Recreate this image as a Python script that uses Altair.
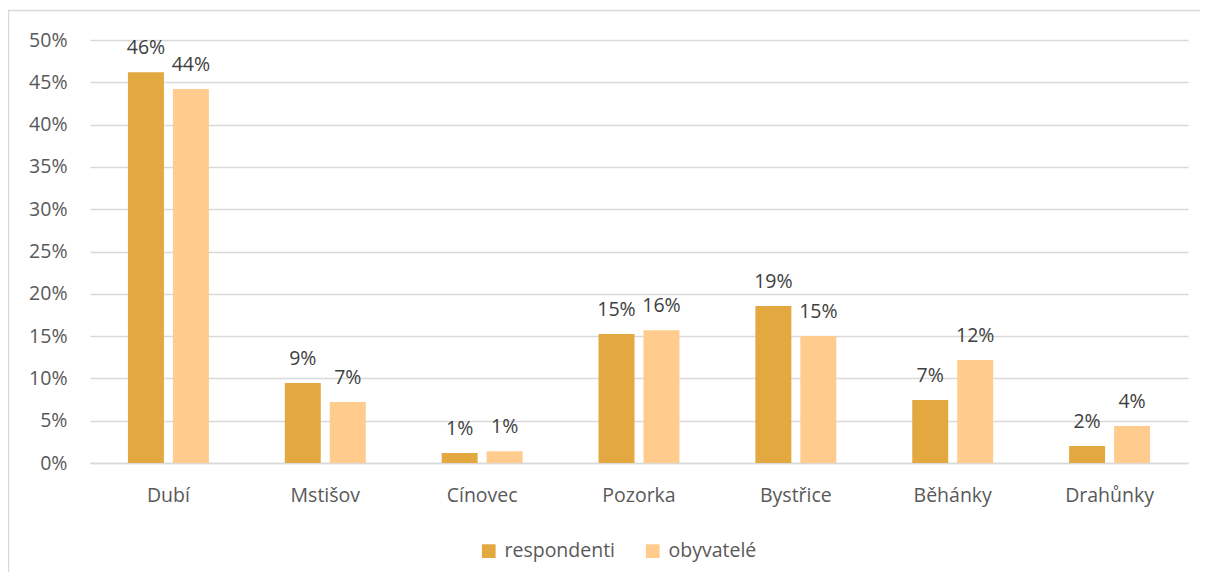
import altair as alt
import pandas as pd

categories = ["Dubí", "Mstišov", "Cínovec", "Pozorka", "Bystřice", "Běhánky", "Drahůnky"]
series = ["respondenti", "obyvatelé"]
respondenti = [0.462, 0.0946, 0.0118, 0.1525, 0.1856, 0.0745, 0.020]
obyvatele = [0.442, 0.072, 0.014, 0.157, 0.150, 0.1217, 0.0437]
colors = ["#E3A840", "#FFCC8E"]
y_ticks = [i * 0.05 for i in range(11)]

rows = []
for c, r, o in zip(categories, respondenti, obyvatele):
    rows.append({"kat": c, "serie": series[0], "hodnota": r})
    rows.append({"kat": c, "serie": series[1], "hodnota": o})
df = pd.DataFrame(rows)

FONT = "Open Sans"
FS = 19.5

x_enc = alt.X("kat:N", sort=categories, title=None,
              scale=alt.Scale(paddingInner=0.484, paddingOuter=0.242),
              axis=alt.Axis(labelAngle=0, labelFontSize=FS, labelColor="#595959",
                            labelBaseline="alphabetic", labelPadding=38.5,
                            ticks=False, domainColor="#D9D9D9",
                            domainWidth=1.5, labelFont=FONT))
xoff = alt.XOffset("serie:N", sort=series,
                   scale=alt.Scale(paddingInner=0.2, paddingOuter=0))
y_enc = alt.Y("hodnota:Q", title=None,
              scale=alt.Scale(domain=[0, 0.5], nice=False),
              axis=alt.Axis(values=y_ticks, format=".0%", labelFontSize=FS,
                            labelColor="#595959", labelPadding=23, ticks=False,
                            domain=False, gridColor="#D9D9D9", gridWidth=1.5,
                            labelFont=FONT))

base = alt.Chart(df)

bars = base.mark_bar().encode(
    x=x_enc, xOffset=xoff, y=y_enc,
    color=alt.Color("serie:N", sort=series,
                    scale=alt.Scale(domain=series, range=colors),
                    legend=alt.Legend(title=None, orient="none", direction="horizontal",
                                      legendX=389, legendY=501, symbolType="square",
                                      symbolSize=188, symbolStrokeWidth=0,
                                      labelFontSize=FS, labelColor="#595959",
                                      labelFont=FONT, columnPadding=27, labelOffset=6)),
)

labels = base.mark_text(baseline="alphabetic", dy=-18, fontSize=FS, color="#404040",
                        font=FONT).encode(
    x=alt.X("kat:N", sort=categories),
    xOffset=xoff,
    y="hodnota:Q",
    text=alt.Text("hodnota:Q", format=".0%"),
)

frame = alt.Chart(alt.Data(values=[{"a": 1}])).mark_rect(
    fill=None, stroke="#D9D9D9", strokeWidth=1.5
).encode(x=alt.value(-81.5), x2=alt.value(1200), y=alt.value(-29.5), y2=alt.value(620))

chart = alt.layer(frame, bars, labels).properties(
    width=1098, height=423,
    autosize=alt.AutoSizeParams(type="none"),
    padding={"left": 82, "top": 32, "right": 12, "bottom": 109},
).configure_view(stroke=None)

chart.save("out.html", embed_options={"renderer": "svg", "actions": False})
